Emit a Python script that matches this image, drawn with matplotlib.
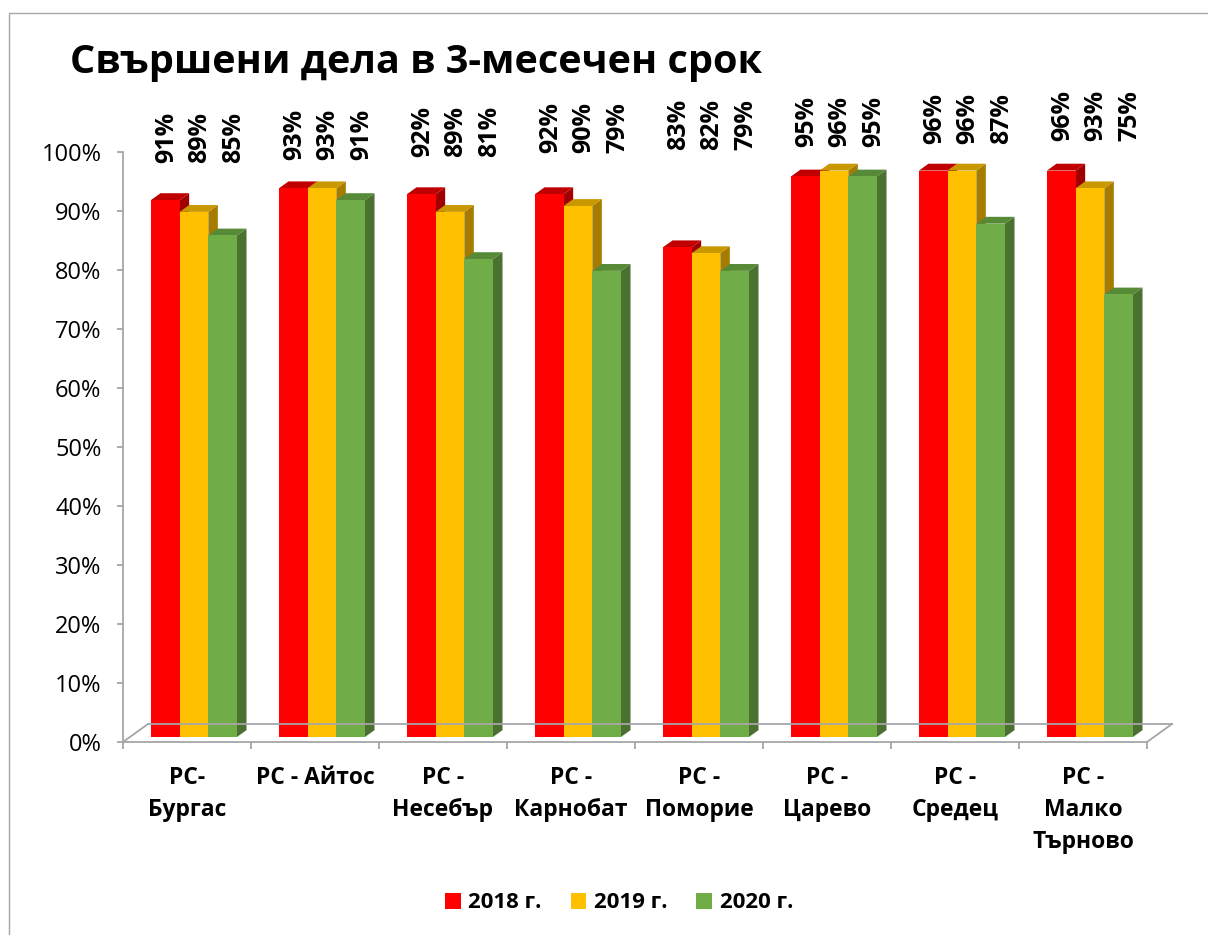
import numpy as np
import matplotlib
matplotlib.use('Agg')
import matplotlib.pyplot as plt
from matplotlib.patches import Polygon, Patch
from matplotlib.lines import Line2D

plt.rcParams['font.family'] = ['Open Sans', 'DejaVu Sans']

# data
courts = ['РС-\nБургас', 'РС - Айтос', 'РС -\nНесебър', 'РС -\nКарнобат', 'РС -\nПоморие',
          'РС -\nЦарево', 'РС -\nСредец', 'РС -\nМалко\nТърново']
years = ['2018 г.', '2019 г.', '2020 г.']
v2018 = [91, 93, 92, 92, 83, 95, 96, 96]
v2019 = [89, 93, 89, 90, 82, 96, 96, 93]
v2020 = [85, 91, 81, 79, 79, 95, 87, 75]
yticks = [0, 10, 20, 30, 40, 50, 60, 70, 80, 90, 100]

series = [v2018, v2019, v2020]
front_c = ['#FF0000', '#FFC000', '#70AD47']
top_c = ['#C00000', '#C99700', '#568A36']
side_c = ['#A00000', '#A67C00', '#4B7030']
gray = '#A6A6A6'

W, H = 1208, 935
fig = plt.figure(figsize=(W / 100, H / 100), dpi=100)
ax = fig.add_axes([123 / W, (H - 742) / H, 1024 / W, 590 / H])
n = len(courts)
ax.set_xlim(0, n)
ax.set_ylim(0, 1)

# fake 3d floor depth in data units
DX = 25 / (1024 / n)
DY = 18 / 590
d0, d1 = 0.28, 0.66
w = 0.224
ddx = (d1 - d0) * DX
ddy = (d1 - d0) * DY
yb = d0 * DY

for i in range(n):
    for j, vals in enumerate(series):
        v = vals[i] / 100
        x = i + 0.5 - 1.5 * w + j * w + d0 * DX
        side = [(x + w, yb), (x + w + ddx, yb + ddy), (x + w + ddx, yb + v + ddy), (x + w, yb + v)]
        top = [(x, yb + v), (x + w, yb + v), (x + w + ddx, yb + v + ddy), (x + ddx, yb + v + ddy)]
        front = [(x, yb), (x + w, yb), (x + w, yb + v), (x, yb + v)]
        ax.add_patch(Polygon(side, closed=True, fc=side_c[j], ec='none', clip_on=False))
        ax.add_patch(Polygon(top, closed=True, fc=top_c[j], ec='none', clip_on=False))
        ax.add_patch(Polygon(front, closed=True, fc=front_c[j], ec='none', clip_on=False))
        # value labels, fanned out a bit and drifting up to the right
        ly = (742 - (163 - 3.2 * i)) / 590
        lx = x + w / 2 + (1 + 5 * j) / 128
        ax.text(lx, ly, f'{vals[i]}%', rotation=90, ha='center', va='bottom',
                fontsize=18, fontweight='bold', clip_on=False)

# floor
for xs, ys in [([DX, n + DX], [DY, DY]), ([0, DX], [0, DY]), ([n, n + DX], [0, DY])]:
    ax.add_line(Line2D(xs, ys, color=gray, lw=1.3, clip_on=False))

for s in ['top', 'right']:
    ax.spines[s].set_visible(False)
for s in ['left', 'bottom']:
    ax.spines[s].set_color(gray)
    ax.spines[s].set_linewidth(1.3)

ax.set_yticks([t / 100 for t in yticks])
ax.set_yticklabels([f'{t}%' for t in yticks], fontsize=17)
ax.tick_params(axis='y', length=4.5, color=gray, width=1.3, pad=11)

ax.set_xticks(np.arange(n + 1))
ax.set_xticklabels([])
ax.tick_params(axis='x', which='major', length=5, color=gray, width=1.3)
ax.set_xticks(np.arange(n) + 0.5, minor=True)
ax.set_xticklabels(courts, minor=True, fontsize=16.5, fontweight='bold', linespacing=1.45)
ax.tick_params(axis='x', which='minor', length=0, pad=17)

fig.text(70 / W, 1 - 62 / H, 'Свършени дела в 3-месечен срок', fontsize=28.5,
         fontweight='bold', va='center', ha='left')

handles = [Patch(fc=c, ec='none') for c in front_c]
fig.legend(handles, years, loc='center', bbox_to_anchor=(619 / W, 1 - 903 / H), ncol=3,
           frameon=False, prop={'size': 16, 'weight': 'bold'}, handlelength=0.7,
           handleheight=0.7, handletextpad=0.35, columnspacing=1.3)

# chart area border (only left and top visible)
fig.add_artist(Line2D([9 / W, 9 / W, 1], [0, 1 - 13 / H, 1 - 13 / H], transform=fig.transFigure,
                      color=gray, lw=1))

fig.savefig('out.png', dpi=100)
